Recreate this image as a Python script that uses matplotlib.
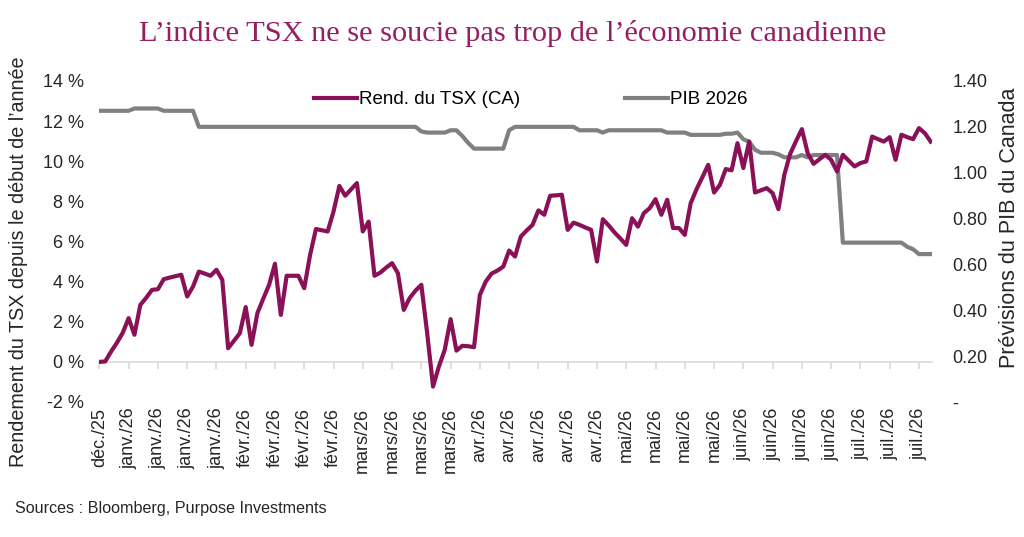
import matplotlib
matplotlib.use('Agg')
from matplotlib import pyplot as plt
from matplotlib.ticker import FuncFormatter
import numpy as np

plt.rcParams['font.family'] = ['Liberation Sans', 'DejaVu Sans']

# rendement du TSX depuis le debut de l'annee (%), une valeur par seance
tsx = [0.00, 0.02, 0.51, 0.95, 1.45, 2.18, 1.35, 2.84, 3.19, 3.59,
       3.62, 4.12, 4.20, 4.27, 4.34, 3.26, 3.75, 4.50, 4.40, 4.29,
       4.59, 4.09, 0.68, 1.05, 1.43, 2.73, 0.85, 2.43, 3.15, 3.84,
       4.89, 2.34, 4.29, 4.29, 4.29, 3.67, 5.33, 6.62, 6.56, 6.50,
       7.49, 8.77, 8.28, 8.60, 8.91, 6.50, 6.99, 4.29, 4.45, 4.70,
       4.92, 4.42, 2.59, 3.18, 3.55, 3.84, 1.43, -1.23, -0.23, 0.60,
       2.13, 0.56, 0.80, 0.78, 0.73, 3.34, 4.00, 4.40, 4.55, 4.75,
       5.55, 5.25, 6.25, 6.55, 6.83, 7.55, 7.33, 8.28, 8.30, 8.33,
       6.58, 6.94, 6.83, 6.70, 6.58, 5.00, 7.11, 6.80, 6.45, 6.15,
       5.83, 7.16, 6.74, 7.41, 7.66, 8.11, 7.33, 8.08, 6.67, 6.67,
       6.33, 7.90, 8.60, 9.20, 9.82, 8.44, 8.82, 9.61, 9.55, 10.90,
       9.66, 10.98, 8.44, 8.55, 8.66, 8.41, 7.61, 9.32, 10.37, 11.00,
       11.60, 10.40, 9.87, 10.10, 10.32, 10.07, 9.49, 10.32, 10.03, 9.74,
       9.91, 9.99, 11.23, 11.10, 10.98, 11.20, 10.07, 11.32, 11.20, 11.10,
       11.65, 11.40, 10.98]

# previsions du PIB canadien 2026 (%)
pib = [1.27, 1.27, 1.27, 1.27, 1.27, 1.27, 1.28, 1.28, 1.28, 1.28,
       1.28, 1.27, 1.27, 1.27, 1.27, 1.27, 1.27, 1.20, 1.20, 1.20,
       1.20, 1.20, 1.20, 1.20, 1.20, 1.20, 1.20, 1.20, 1.20, 1.20,
       1.20, 1.20, 1.20, 1.20, 1.20, 1.20, 1.20, 1.20, 1.20, 1.20,
       1.20, 1.20, 1.20, 1.20, 1.20, 1.20, 1.20, 1.20, 1.20, 1.20,
       1.20, 1.20, 1.20, 1.20, 1.20, 1.18, 1.175, 1.175, 1.175, 1.175,
       1.185, 1.185, 1.16, 1.13, 1.105, 1.105, 1.105, 1.105, 1.105, 1.105,
       1.185, 1.20, 1.20, 1.20, 1.20, 1.20, 1.20, 1.20, 1.20, 1.20,
       1.20, 1.20, 1.185, 1.185, 1.185, 1.185, 1.175, 1.185, 1.185, 1.185,
       1.185, 1.185, 1.185, 1.185, 1.185, 1.185, 1.185, 1.175, 1.175, 1.175,
       1.175, 1.165, 1.165, 1.165, 1.165, 1.165, 1.165, 1.17, 1.17, 1.175,
       1.146, 1.135, 1.10, 1.087, 1.087, 1.087, 1.08, 1.067, 1.067, 1.067,
       1.077, 1.067, 1.077, 1.077, 1.077, 1.077, 1.077, 0.695, 0.695, 0.695,
       0.695, 0.695, 0.695, 0.695, 0.695, 0.695, 0.695, 0.695, 0.677, 0.666,
       0.645, 0.645, 0.645]

tick_labels = ['déc./25', 'janv./26', 'janv./26', 'janv./26', 'janv./26',
               'févr./26', 'févr./26', 'févr./26', 'févr./26',
               'mars/26', 'mars/26', 'mars/26', 'mars/26',
               'avr./26', 'avr./26', 'avr./26', 'avr./26', 'avr./26',
               'mai/26', 'mai/26', 'mai/26', 'mai/26',
               'juin/26', 'juin/26', 'juin/26', 'juin/26',
               'juil./26', 'juil./26', 'juil./26']

purple = '#8a1158'
gray = '#808080'

days = np.arange(len(tsx))

fig = plt.figure(figsize=(10.24, 5.37), dpi=100)
ax = fig.add_axes([0.097, 0.2514, 0.813, 0.5978])
ax2 = ax.twinx()
ax.set_zorder(ax2.get_zorder() + 1)
ax.patch.set_visible(False)

l1, = ax.plot(days, tsx, color=purple, lw=3, solid_joinstyle='round',
              label='Rend. du TSX (CA)')
l2, = ax2.plot(days, pib, color=gray, lw=3, solid_joinstyle='round',
               label='PIB 2026')

ymin, ymax = -2, 14
ax.set_xlim(0, 142.2)
ax.set_ylim(ymin, ymax)
ax2.set_ylim(0, 1.4)

ax.set_yticks(range(-2, 15, 2))
ax.yaxis.set_major_formatter(FuncFormatter(lambda v, p: '%d %%' % v))
ax2.set_yticks(np.arange(0, 1.41, 0.2))
ax2.yaxis.set_major_formatter(
    FuncFormatter(lambda v, p: '-' if abs(v) < 1e-9 else '%.2f' % v))

for a in (ax, ax2):
    for s in a.spines.values():
        s.set_visible(False)

ax.tick_params(axis='y', length=0, pad=11, labelsize=13, colors='#262626')
ax2.tick_params(axis='y', length=0, pad=15, labelsize=13, colors='#262626')

ax.set_xticks(days[::5])
ax.set_xticklabels(tick_labels, rotation=90)
ax.tick_params(axis='x', length=0, pad=4, labelsize=13, colors='#262626')

# axe des x trace a 0 %
sec = ax.secondary_xaxis((0 - ymin) / (ymax - ymin))
sec.set_xticks(days[::5])
sec.tick_params(axis='x', length=5, width=1.2, color='#d9d9d9',
                labelbottom=False)
sec.spines['bottom'].set_color('#d9d9d9')
sec.spines['bottom'].set_linewidth(1.2)

fig.legend([l1, l2], ['Rend. du TSX (CA)', 'PIB 2026'], loc='center',
           bbox_to_anchor=(0.518, 0.814), ncol=2, frameon=False, fontsize=13.5,
           handlelength=2.3, handletextpad=0.1, columnspacing=5.6)

fig.text(0.5005, 0.9385, 'L\u2019indice TSX ne se soucie pas trop de l\u2019économie canadienne',
         ha='center', va='center', fontsize=21.9, color='#961f62',
         family=['Liberation Serif', 'DejaVu Serif'])
fig.text(0.018, 0.512, 'Rendement du TSX depuis le début de l\u2019année',
         rotation=90, ha='center', va='center', fontsize=14.2, color='#262626')
fig.text(0.986, 0.575, 'Prévisions du PIB du Canada',
         rotation=90, ha='center', va='center', fontsize=15.5, color='#262626')
fig.text(0.015, 0.054, 'Sources : Bloomberg, Purpose Investments',
         ha='left', va='center', fontsize=11.6, color='#262626')

fig.savefig('out.png', dpi=100)
